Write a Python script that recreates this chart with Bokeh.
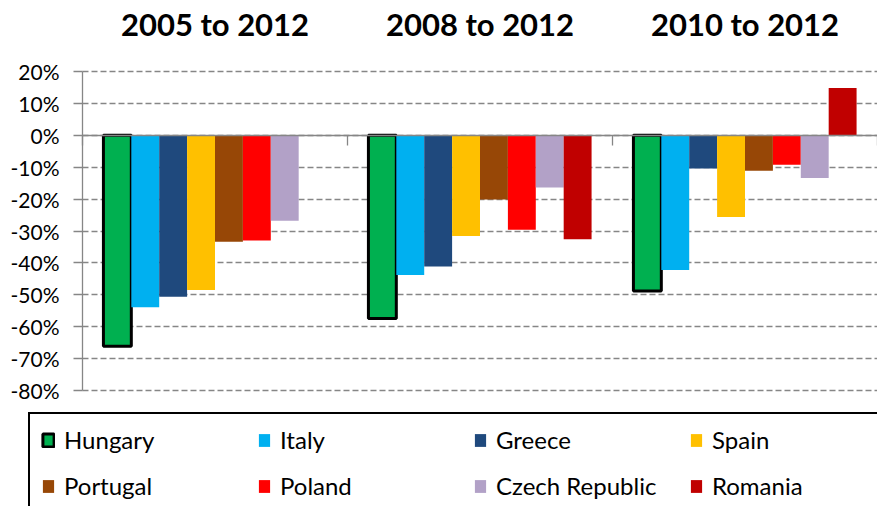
import math
from bokeh.plotting import figure
from bokeh.models import (Range1d, LinearAxis, FixedTicker, PrintfTickFormatter,
                          Legend, LegendItem, ColumnDataSource, Grid)
from bokeh.transform import dodge
from bokeh.embed import file_html
from bokeh.resources import INLINE

nan = float("nan")

periods = ["2005 to 2012", "2008 to 2012", "2010 to 2012"]
countries = ["Hungary", "Italy", "Greece", "Spain", "Portugal", "Poland",
             "Czech Republic", "Romania"]
hungary = [-66.1, -57.4, -48.8]
italy = [-53.9, -43.8, -42.2]
greece = [-50.6, -41.1, -10.4]
spain = [-48.5, -31.6, -25.6]
portugal = [-33.4, -20.1, -11.1]
poland = [-33.0, -29.6, -9.2]
czech = [-26.8, -16.4, -13.4]
romania = [nan, -32.6, 14.8]
y_ticks = [-80, -70, -60, -50, -40, -30, -20, -10, 0, 10, 20]

series = [hungary, italy, greece, spain, portugal, poland, czech, romania]
colors = ["#00B050", "#00B0F0", "#1F497D", "#FFC000", "#974706", "#FF0000",
          "#B2A1C7", "#C00000"]

data = {"gidx": list(range(len(periods)))}
for name, vals in zip(countries, series):
    data[name] = vals
source = ColumnDataSource(data)

W, H = 877, 506
AXIS_PX, TOP_PX, BOTTOM_PX = 82, 71, 390   # pixel rows of the 20% and -80% lines
FRAME_TOP = 52
n_groups = len(periods)
px_per_x = (W - AXIS_PX) / n_groups
x_lo = -AXIS_PX / px_per_x
px_per_y = (BOTTOM_PX - TOP_PX) / (max(y_ticks) - min(y_ticks))
y_hi = max(y_ticks) + (TOP_PX - FRAME_TOP) / px_per_y
y_lo = max(y_ticks) - (H - TOP_PX) / px_per_y

p = figure(width=W, height=H, output_backend="svg", toolbar_location=None,
           x_range=Range1d(x_lo, n_groups), y_range=Range1d(y_lo, y_hi),
           min_border_left=0, min_border_right=0, min_border_top=FRAME_TOP,
           min_border_bottom=0)
p.outline_line_color = None
p.xgrid.visible = False

GRAY = "#868686"

# y axis, placed at x = 0
ya = p.yaxis[0]
ya.fixed_location = 0
ya.ticker = FixedTicker(ticks=y_ticks)
ya.bounds = (min(y_ticks), max(y_ticks))
ya.formatter = PrintfTickFormatter(format="%d%%")
ya.major_label_text_font = "Lato"
ya.major_label_text_font_size = "21px"
ya.major_label_text_color = "black"
ya.major_tick_out = 9
ya.major_tick_in = 0
ya.minor_tick_out = 0
ya.minor_tick_in = 0
ya.axis_line_color = GRAY
ya.axis_line_width = 1.3
ya.major_tick_line_color = GRAY
ya.major_tick_line_width = 1.3
ya.major_label_standoff = 14

yg = p.ygrid[0]
yg.ticker = FixedTicker(ticks=y_ticks)
yg.grid_line_color = GRAY
yg.grid_line_dash = "6 3"
yg.grid_line_width = 1.3
if "cross_bounds" in Grid.properties():
    yg.cross_bounds = (0, n_groups)
else:
    yg.visible = False
    p.segment(x0=0, x1=n_groups, y0=y_ticks, y1=y_ticks, line_color=GRAY,
              line_dash="6 3", line_width=1.3, level="underlay")

# zero line / category axis
xa = p.xaxis[0]
xa.ticker = FixedTicker(ticks=list(range(n_groups + 1)))
xa.fixed_location = 0
xa.bounds = (0, n_groups)
xa.major_label_text_alpha = 0
xa.major_label_text_font_size = "1px"
xa.major_tick_out = 10
xa.major_tick_in = 0
xa.minor_tick_out = 0
xa.minor_tick_in = 0
xa.axis_line_color = GRAY
xa.axis_line_width = 1.3
xa.major_tick_line_color = GRAY
xa.major_tick_line_width = 1.3

# period titles above
ta = LinearAxis(ticker=FixedTicker(ticks=[i + 0.5 for i in range(n_groups)]),
                major_label_overrides={i + 0.5: lbl for i, lbl in enumerate(periods)})
ta.major_label_text_font = "Lato"
ta.major_label_text_font_style = "bold"
ta.major_label_text_font_size = "31px"
ta.major_label_text_color = "black"
ta.major_tick_out = 0
ta.major_tick_in = 0
ta.minor_tick_out = 0
ta.minor_tick_in = 0
ta.axis_line_color = None
ta.major_label_standoff = 29 - (TOP_PX - FRAME_TOP)
p.add_layout(ta, "above")

w = 1.0 / 9.5
items = []
for i, (name, col) in enumerate(zip(countries, colors)):
    off = (i + 1.25) * w
    if name == "Hungary":
        r = p.vbar(x=dodge("gidx", off), top=name, bottom=0, width=w, source=source,
                   fill_color=col, line_color="black", line_width=3)
    else:
        r = p.vbar(x=dodge("gidx", off), top=name, bottom=0, width=w, source=source,
                   fill_color=col, line_color=None)
    items.append(LegendItem(label=name, renderers=[r]))

legend = Legend(items=items, ncols=4, orientation="horizontal", location=(28, -7),
                label_text_font="Lato", label_text_font_size="24px",
                label_text_color="black",
                glyph_width=14, glyph_height=16, label_standoff=9,
                label_width=176, label_height=26, spacing=17, padding=11, margin=0,
                border_line_color="black", border_line_width=2,
                border_line_alpha=1.0,
                background_fill_color="white", background_fill_alpha=1.0)
p.add_layout(legend, "center")

open("out.html", "w").write(file_html(p, INLINE))
